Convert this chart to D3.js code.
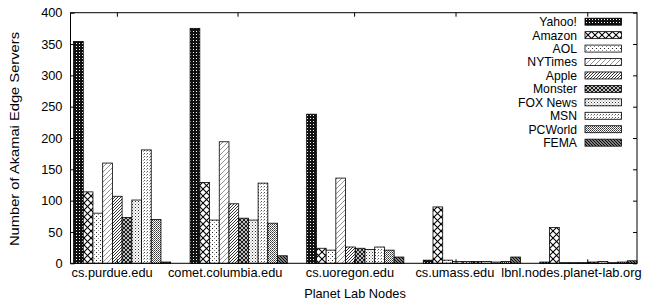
<!DOCTYPE html>
<html><head><meta charset="utf-8">
<script src="https://cdn.jsdelivr.net/npm/d3@7"></script>
<style>
body{margin:0;background:#fff;}
text{font-family:"Liberation Sans",Arial,Helvetica,sans-serif;fill:#000;}
</style></head>
<body><svg id="c" width="663" height="303"></svg>
<script>
const nodes = ["cs.purdue.edu","comet.columbia.edu","cs.uoregon.edu","cs.umass.edu","lbnl.nodes.planet-lab.org"];
const series = ["Yahoo!","Amazon","AOL","NYTimes","Apple","Monster","FOX News","MSN","PCWorld","FEMA"];
const yahoo   = [354, 375, 238, 5, 2];
const amazon  = [114, 129, 24, 90, 57];
const aol     = [80, 69, 21, 5, 1];
const nytimes = [160, 194, 136, 3, 1];
const apple   = [107, 95, 26, 3, 1];
const monster = [73, 72, 24, 3, 2];
const foxnews = [101, 69, 22, 3, 3];
const msn     = [181, 128, 26, 2, 1];
const pcworld = [70, 64, 21, 3, 2];
const fema    = [2, 12, 10, 10, 4];
const values = [yahoo, amazon, aol, nytimes, apple, monster, foxnews, msn, pcworld, fema];
const yTicks = [0,50,100,150,200,250,300,350,400];
const xTickPos = [-0.045, 0.99, 1.99, 2.86, 3.99];
const xLabelPos = [-0.09, 0.88, 1.95, 2.85, 3.85];

const svg = d3.select("#c");
const L=70.5, R=637, T=12.7, B=263.3;
const FS = "12.8px";
const nS = series.length, gap = 2, slot = 1/(nS+gap);
const x = d3.scaleLinear().domain([-(nS/2)*slot - 0.026, (nodes.length-1) + (nS/2)*slot]).range([L,R]);
const y = d3.scaleLinear().domain([0,400]).range([B,T]);

// patterns
const defs = svg.append("defs");
function pat(id, size, draw, bg){
  const p = defs.append("pattern").attr("id",id).attr("patternUnits","userSpaceOnUse")
    .attr("width",size).attr("height",size);
  p.append("rect").attr("width",size).attr("height",size).attr("fill",bg||"#fff");
  draw(p);
}
function lines(p, segs, w, col){
  segs.forEach(s=>p.append("line").attr("x1",s[0]).attr("y1",s[1]).attr("x2",s[2]).attr("y2",s[3])
    .attr("stroke",col||"#000").attr("stroke-width",w));
}
function dots(p, pts, col){
  pts.forEach(s=>p.append("rect").attr("x",s[0]).attr("y",s[1]).attr("width",1).attr("height",1).attr("fill",s[2]||col));
}
pat("p0",3,p=>dots(p,[[1,1]],"#fff"),"#111");
pat("p1",7,p=>lines(p,[[0,0,7,7],[0,7,7,0]],1.1,"#000"));
pat("p2",4,p=>dots(p,[[0,0,"#222"],[2,2,"#888"]]));
pat("p3",5,p=>lines(p,[[0,5,5,0],[-1,1,1,-1],[4,6,6,4]],0.8,"#777"));
pat("p4",3,p=>lines(p,[[0,3,3,0],[-1,1,1,-1],[2,4,4,2]],1,"#333"));
pat("p5",4,p=>lines(p,[[0,0,4,4],[0,4,4,0]],1.1,"#111"));
pat("p6",3,p=>dots(p,[[0,0,"#333"],[1.5,1.5,"#777"]]));
pat("p7",3,p=>dots(p,[[0,0,"#555"],[2,1,"#aaa"]]));
pat("p8",2,p=>dots(p,[[0,0,"#333"],[1,1,"#666"]]));
pat("p9",3,p=>lines(p,[[0,0,3,3],[-1,2,1,4],[2,-1,4,1]],1.2,"#000"),"#bbb");

// bars
values.forEach((vals,j)=>{
  svg.append("g").selectAll("rect").data(vals).join("rect")
    .attr("x",(d,i)=>x(i + (j - nS/2)*slot))
    .attr("width",x(slot)-x(0))
    .attr("y",d=>y(d))
    .attr("height",d=>y(0)-y(d))
    .attr("fill",`url(#p${j})`)
    .attr("stroke","#000").attr("stroke-width",0.8);
});

// frame
svg.append("rect").attr("x",L).attr("y",T).attr("width",R-L).attr("height",B-T)
  .attr("fill","none").attr("stroke","#000").attr("stroke-width",1);

const yl = svg.append("g").attr("transform",`translate(${L},0)`)
  .call(d3.axisLeft(y).tickValues(yTicks).tickSize(-4).tickPadding(8));
const yr = svg.append("g").attr("transform",`translate(${R},0)`)
  .call(d3.axisRight(y).tickValues(yTicks).tickSize(-4).tickFormat(""));
const xb = svg.append("g").attr("transform",`translate(0,${B})`)
  .call(d3.axisBottom(x).tickValues(xTickPos).tickSize(-4).tickFormat(""));
const xt = svg.append("g").attr("transform",`translate(0,${T})`)
  .call(d3.axisTop(x).tickValues(xTickPos).tickSize(-4).tickFormat(""));
[yl,yr,xb,xt].forEach(g=>{g.select(".domain").remove();
  g.selectAll(".tick line").attr("stroke","#000").attr("stroke-width",1);
  g.selectAll("text").style("font-size",FS).attr("fill","#000").style("font-family","'Liberation Sans',Arial,sans-serif");});
const xl = svg.append("g").attr("transform",`translate(0,${B})`)
  .call(d3.axisBottom(x).tickValues(xLabelPos).tickSize(0).tickPadding(5).tickFormat((d,i)=>nodes[i]));
xl.select(".domain").remove();
xl.selectAll("text").style("font-size",FS).attr("fill","#000").style("font-family","'Liberation Sans',Arial,sans-serif");

svg.append("text").attr("x",355).attr("y",298).attr("text-anchor","middle")
  .style("font-size",FS).text("Planet Lab Nodes");
svg.append("text").attr("transform","translate(19,139) rotate(-90)").attr("text-anchor","middle")
  .style("font-size","12.5px").attr("textLength",214).attr("lengthAdjust","spacingAndGlyphs")
  .text("Number of Akamai Edge Servers");

const lg = svg.append("g");
series.forEach((s,j)=>{
  const cy = 21.7 + j*13.44;
  lg.append("text").attr("x",577).attr("y",cy+4.4).attr("text-anchor","end").style("font-size","12.2px").text(s);
  lg.append("rect").attr("x",585).attr("y",cy-3.5).attr("width",36.5).attr("height",7)
    .attr("fill",`url(#p${j})`).attr("stroke","#000").attr("stroke-width",0.8);
});
</script></body></html>
